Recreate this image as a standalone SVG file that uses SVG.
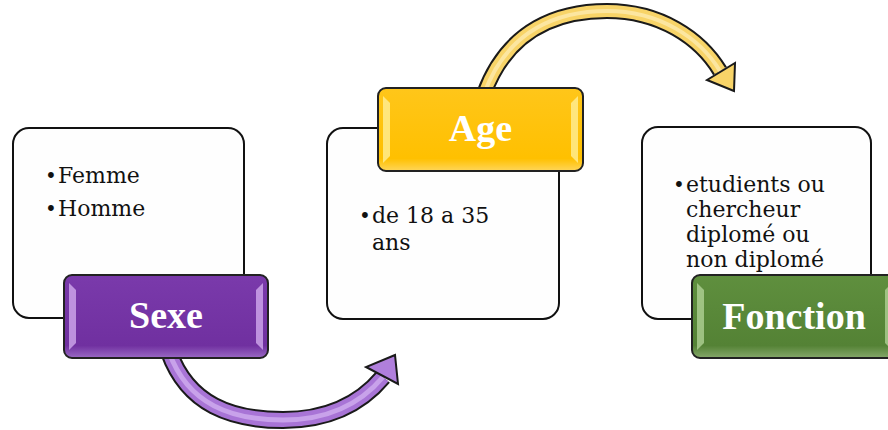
<svg xmlns="http://www.w3.org/2000/svg" width="888" height="430" viewBox="0 0 888 430">
<defs>
<style>
.card{fill:#fefefe;stroke:#111;stroke-width:2}
.body{font-family:"DejaVu Serif","Liberation Serif",serif;font-size:22px;fill:#111}
.bul{font-family:"DejaVu Serif","Liberation Serif",serif;font-size:20px;fill:#111}
.title{font-family:"Liberation Serif","DejaVu Serif",serif;font-size:38px;font-weight:bold;fill:#fff;text-anchor:middle}
.tab{stroke:#222;stroke-width:2}
.hl{opacity:0.75}
.outline{fill:none;stroke:#1a1a1a;stroke-linecap:butt}
</style>
<linearGradient id="gp" x1="0" y1="0" x2="0" y2="1">
<stop offset="0" stop-color="#7a3aab"/><stop offset="0.85" stop-color="#7030A0"/><stop offset="1" stop-color="#9a6ac4"/>
</linearGradient>
<linearGradient id="gy" x1="0" y1="0" x2="0" y2="1">
<stop offset="0" stop-color="#FFC61a"/><stop offset="0.85" stop-color="#FFC000"/><stop offset="1" stop-color="#ffd65a"/>
</linearGradient>
<linearGradient id="gg" x1="0" y1="0" x2="0" y2="1">
<stop offset="0" stop-color="#5f8f3e"/><stop offset="0.85" stop-color="#548235"/><stop offset="1" stop-color="#86a86b"/>
</linearGradient>
</defs>

<g id="connectors">
<g id="arrow-sexe-age">
<path class="outline" stroke-width="18" d="M169,352 C188,405 232,420 283,420 C330,420 362,402 383,377"/>
<path fill="none" stroke="#A874D6" stroke-width="14" d="M169,352 C188,405 232,420 283,420 C330,420 362,402 383,377"/>
<path fill="none" stroke="#C8A2EA" stroke-width="5" d="M169,352 C188,405 232,420 283,420 C330,420 362,402 383,377"/>
<polygon points="395,355 366,367 398,384" fill="#B07FDC" stroke="#1a1a1a" stroke-width="2" stroke-linejoin="miter"/>
</g>
<g id="arrow-age-fonction">
<path class="outline" stroke-width="16" d="M484,94 C508,28 560,11 607,11 C660,11 700,38 720,71"/>
<path fill="none" stroke="#F8D468" stroke-width="12" d="M484,94 C508,28 560,11 607,11 C660,11 700,38 720,71"/>
<path fill="none" stroke="#FCE6A0" stroke-width="4" d="M484,94 C508,28 560,11 607,11 C660,11 700,38 720,71"/>
<polygon points="734,91 707,80 735,63" fill="#F8D468" stroke="#1a1a1a" stroke-width="2"/>
</g>
</g>

<g id="node-sexe">
<rect class="card" x="13" y="128" width="231" height="190" rx="16"/>
<text class="bul" x="45" y="183">•</text>
<text class="body" x="58" y="183">Femme</text>
<text class="bul" x="45" y="216">•</text>
<text class="body" x="58" y="216">Homme</text>
<rect class="tab" x="64" y="275" width="204" height="83" rx="8" fill="url(#gp)"/>
<path class="hl" d="M69,283 L76,290 L76,343 L69,350 Z" fill="#d7b2f2"/>
<path class="hl" d="M263,283 L256,290 L256,343 L263,350 Z" fill="#d7b2f2"/>
<text class="title" x="166" y="328">Sexe</text>
</g>

<g id="node-age">
<rect class="card" x="327" y="128" width="232" height="191" rx="16"/>
<text class="bul" x="359" y="223">•</text>
<text class="body" x="372" y="223">de 18 a 35</text>
<text class="body" x="372" y="250">ans</text>
<rect class="tab" x="378" y="88" width="205" height="83" rx="8" fill="url(#gy)"/>
<path class="hl" d="M383,96 L390,103 L390,156 L383,163 Z" fill="#fff1a0"/>
<path class="hl" d="M578,96 L571,103 L571,156 L578,163 Z" fill="#fff1a0"/>
<text class="title" x="480.5" y="141">Age</text>
</g>

<g id="node-fonction">
<rect class="card" x="642" y="127" width="229" height="192" rx="16"/>
<text class="bul" x="673" y="192">•</text>
<text class="body" x="686" y="192">etudients ou</text>
<text class="body" x="686" y="217">chercheur</text>
<text class="body" x="686" y="242">diplomé ou</text>
<text class="body" x="686" y="267">non diplomé</text>
<rect class="tab" x="692" y="275" width="205" height="83" rx="8" fill="url(#gg)"/>
<path class="hl" d="M697,283 L704,290 L704,343 L697,350 Z" fill="#b5d59b"/>
<path class="hl" d="M892,283 L885,290 L885,343 L892,350 Z" fill="#b5d59b"/>
<text class="title" x="794" y="329">Fonction</text>
</g>
</svg>
